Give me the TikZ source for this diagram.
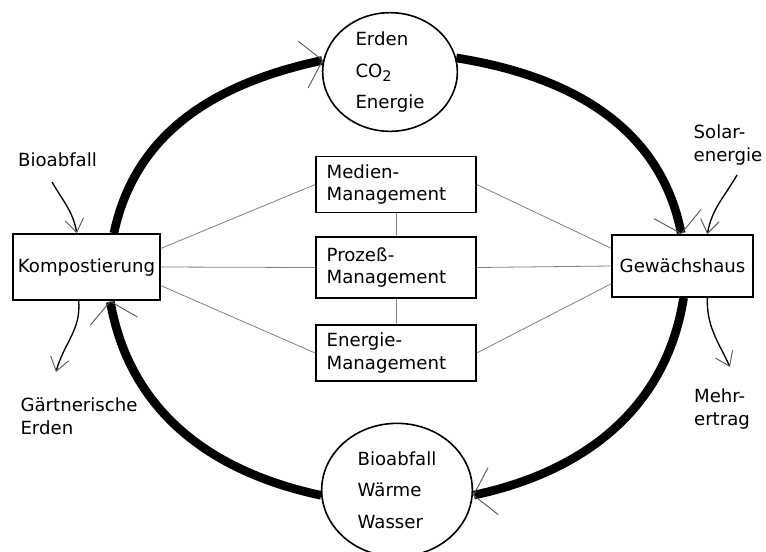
\documentclass[tikz,border=0pt]{standalone}
\usepackage{fontspec}
\setmainfont{DejaVu Sans}
\colorlet{ThinLine}{black!50}
\colorlet{BarbLine}{black!65}
\usetikzlibrary{arrows.meta, shapes.geometric}

\tikzset{
  every node/.style = {font=\fontsize{13.6}{17}\selectfont},
  Station/.style = {draw, line width=1.2pt, fill=white, inner sep=0.5pt, align=left},
  Depot/.style = {draw, line width=1.2pt, fill=white, ellipse, inner sep=0pt,
    align=left, font=\fontsize{13.6}{23.5}\selectfont},
  Management/.style = {Station, minimum height=42pt, text width=104pt, inner xsep=8pt},
  Cycle/.style = {line width=6.5pt,
    -{Straight Barb[length=15pt, width=36pt, line width=0.7pt, color=BarbLine]}},
  Link/.style = {draw=ThinLine, line width=0.6pt},
  Flow/.style = {line width=1pt,
    -{Straight Barb[length=10pt, width=14pt, line width=0.7pt, color=BarbLine]}},
}

\begin{document}
\begin{tikzpicture}[x=0.75pt, y=-0.75pt]
\useasboundingbox (0,0) rectangle (766,551);

% stations and depots
\node[Station, minimum width=110pt, minimum height=49.5pt] (Kompost) at (86.5,267) {Kompostierung};
\node[Station, minimum width=106pt, minimum height=46.5pt] (Haus) at (682.5,266) {Gewächshaus};
\node[Depot, minimum width=101pt, minimum height=89pt] (Top) at (390,72)
  {Erden\\CO\raisebox{-0.45ex}{\fontsize{11}{11}\selectfont 2}\\Energie};
\node[Depot, minimum width=113pt, minimum height=100pt] (Bottom) at (397,490) {Bioabfall\\Wärme\\Wasser};

% management
\node[Management] (Medien) at (396,184.5) {Medien-\\Management};
\node[Management, minimum height=46pt] (Prozess) at (396,267.5) {Prozeß-\\Management};
\node[Management] (Energie) at (396,353) {Energie-\\Management};

% in- and outputs
\node[align=left] (BioIn) at (57.5,160) {Bioabfall};
\node[align=left] (ErdenOut) at (79,416) {Gärtnerische\\Erden};
\node[align=left] (SolarIn) at (728,145) {Solar-\\energie};
\node[align=left] (MehrOut) at (722,409) {Mehr-\\ertrag};

\coordinate (BioStart) at (52,182);
\coordinate (ErdenEnd) at (56,372);
\coordinate (SolarStart) at (737,175);
\coordinate (MehrEnd) at (730,367);

% cycle
\draw[Cycle] (Kompost.51) to[out=78, in=192] (Top.170);
\draw[Cycle] (Top.12) to[out=-9, in=101] (Haus.92);
\draw[Cycle] (Haus.-88) to[out=-99, in=12] (Bottom.-4);
\draw[Cycle] (Bottom.184) to[out=168, in=-80] (Kompost.-55);

% links
\draw[Link] (Kompost.14) -- (Medien.west);
\draw[Link] (Kompost.east) -- (Prozess.west);
\draw[Link] (Kompost.-14) -- (Energie.west);
\draw[Link] (Medien.east) -- (Haus.166);
\draw[Link] (Prozess.east) -- (Haus.west);
\draw[Link] (Energie.east) -- (Haus.194);
\draw[Link] (Medien) -- (Prozess);
\draw[Link] (Prozess) -- (Energie);

% flows
\draw[Flow] (BioStart) to[out=-60, in=100] (Kompost.106);
\draw[Flow] (Kompost.-103) to[out=-85, in=75] (ErdenEnd);
\draw[Flow] (SolarStart) to[out=-120, in=80] (Haus.52);
\draw[Flow] (Haus.-52) to[out=-92, in=115] (MehrEnd);

\end{tikzpicture}
\end{document}
